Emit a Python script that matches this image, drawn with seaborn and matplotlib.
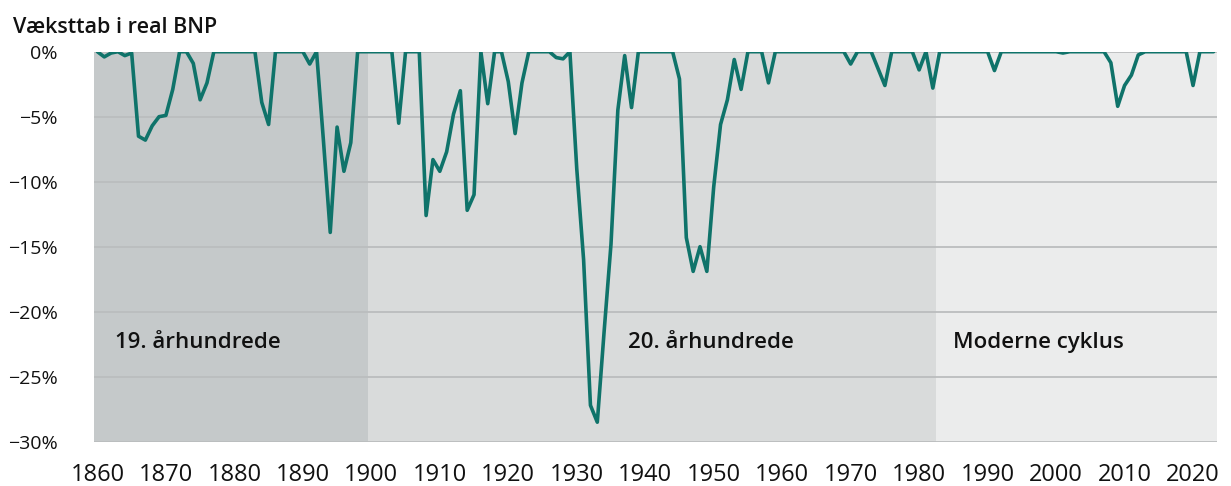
import matplotlib
matplotlib.use("Agg")
import matplotlib.pyplot as plt
import numpy as np
import pandas as pd
import seaborn as sns

# Growth loss in real GDP (%), one value per year 1860-2023
years = list(range(1860, 2024))
loss_1860s = [0, -0.4, -0.1, 0, -0.3, -0.1, -6.5, -6.8, -5.7, -5.0]
loss_1870s = [-4.9, -2.9, 0, 0, -0.9, -3.7, -2.4, 0, 0, 0]
loss_1880s = [0, 0, 0, 0, -3.9, -5.6, 0, 0, 0, 0]
loss_1890s = [0, -0.95, 0, -6.8, -13.9, -5.8, -9.2, -7.0, 0, 0]
loss_1900s = [0, 0, 0, 0, -5.5, 0, 0, 0, -12.6, -8.3]
loss_1910s = [-9.2, -7.7, -4.8, -3.0, -12.2, -11.0, 0, -4.0, 0, 0]
loss_1920s = [-2.3, -6.3, -2.4, 0, 0, 0, 0, -0.45, -0.55, 0]
loss_1930s = [-9.0, -16.0, -27.2, -28.5, -21.5, -14.8, -4.5, -0.3, -4.3, 0]
loss_1940s = [0, 0, 0, 0, 0, -2.1, -14.3, -16.9, -15.0, -16.9]
loss_1950s = [-10.4, -5.6, -3.7, -0.6, -2.9, 0, 0, 0, -2.4, 0]
loss_1960s = [0, 0, 0, 0, 0, 0, 0, 0, 0, 0]
loss_1970s = [-0.95, 0, 0, 0, -1.3, -2.6, 0, 0, 0, 0]
loss_1980s = [-1.4, 0, -2.8, 0, 0, 0, 0, 0, 0, 0]
loss_1990s = [0, -1.45, 0, 0, 0, 0, 0, 0, 0, 0]
loss_2000s = [0, -0.1, 0, 0, 0, 0, 0, 0, -0.85, -4.2]
loss_2010s = [-2.6, -1.8, -0.25, 0, 0, 0, 0, 0, 0, 0]
loss_2020s = [-2.6, 0, 0, 0]

loss = (loss_1860s + loss_1870s + loss_1880s + loss_1890s + loss_1900s
        + loss_1910s + loss_1920s + loss_1930s + loss_1940s + loss_1950s
        + loss_1960s + loss_1970s + loss_1980s + loss_1990s + loss_2000s
        + loss_2010s + loss_2020s)

# era bands
era_labels = ["19. århundrede", "20. århundrede", "Moderne cyklus"]
era_bounds = [1859.5, 1899.5, 1982.5, 2023.5]
era_colors = ["#c5c9ca", "#d9dbdb", "#ebecec"]
era_label_x = [1862.6, 1937.5, 1984.9]

x_ticks = list(range(1860, 2021, 10))
y_ticks = [0, -5, -10, -15, -20, -25, -30]

df = pd.DataFrame({"year": years, "loss": loss})

sns.set_theme(style="white")
plt.rcParams["font.family"] = ["Open Sans", "DejaVu Sans"]

fig = plt.figure(figsize=(12.31, 4.86), dpi=100)
ax = fig.add_axes([94 / 1231, 1 - 441.7 / 486, (1217 - 94) / 1231, (441.7 - 51.7) / 486])

for i, lab in enumerate(era_labels):
    ax.axvspan(era_bounds[i], era_bounds[i + 1], color=era_colors[i], lw=0, zorder=0)
    ax.text(era_label_x[i], -22.8, lab, fontsize=16, fontweight="semibold",
            color="#111111", va="baseline", ha="left", zorder=3)

for yv in y_ticks:
    ax.axhline(yv, color="#bbbdbe", lw=1.3, zorder=1)

sns.lineplot(data=df, x="year", y="loss", ax=ax, color="#0f736a", lw=2.6, zorder=2)

ax.set_xlim(era_bounds[0], era_bounds[-1])
ax.set_ylim(-30, 0)
ax.set_xticks(x_ticks)
ax.set_xticklabels([str(t) for t in x_ticks], fontsize=17, color="#111111")
ax.set_yticks(y_ticks)
ax.set_yticklabels(["0%" if t == 0 else f"\u2212{abs(t)}%" for t in y_ticks],
                   fontsize=14, color="#111111")
ax.tick_params(axis="x", length=0, pad=15)
ax.tick_params(axis="y", length=0, pad=26)
ax.set_xlabel("")
ax.set_ylabel("")
for s in ax.spines.values():
    s.set_visible(False)

fig.text(13 / 1231, 1 - 33 / 486, "Væksttab i real BNP", fontsize=15.5,
         fontweight="semibold", color="#111111", va="baseline", ha="left")

fig.savefig("out.png", dpi=100)
